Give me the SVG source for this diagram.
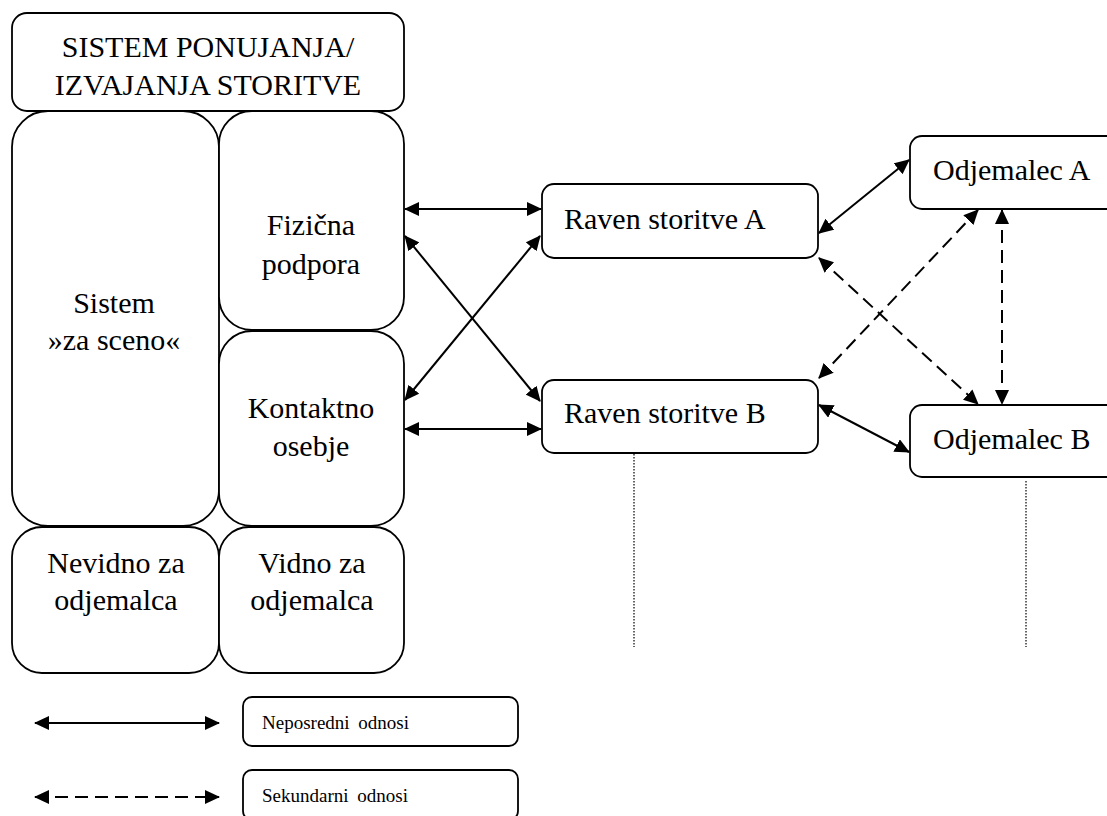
<svg xmlns="http://www.w3.org/2000/svg" width="1107" height="816" viewBox="0 0 1107 816">
  <style>
    .box { fill: #ffffff; stroke: #000000; stroke-width: 1.8; }
    .lbl { font-family: "Liberation Serif", "Times New Roman", serif; font-size: 30px; fill: #000000; }
    .mid { text-anchor: middle; }
    .small { font-family: "Liberation Serif", "Times New Roman", serif; font-size: 19px; word-spacing: 4px; fill: #000000; }
    .link { fill: none; stroke: #000000; stroke-width: 2; marker-start: url(#head); marker-end: url(#head); }
    .dash { stroke-dasharray: 13 7; }
    .dots { fill: none; stroke: #333333; stroke-width: 1.5; stroke-dasharray: 1.5 1.5; }
  </style>
  <defs>
    <marker id="head" markerUnits="userSpaceOnUse" markerWidth="15" markerHeight="14" refX="14" refY="7" orient="auto-start-reverse">
      <path d="M0,0 L15,7 L0,14 z" fill="#000000"/>
    </marker>
  </defs>

  <rect width="1107" height="816" fill="#ffffff"/>

  <!-- service delivery system block -->
  <g id="sistem-ponujanja">
    <rect class="box" x="12" y="13" width="392" height="98" rx="15"/>
    <text class="lbl mid" x="208" y="57">SISTEM PONUJANJA/</text>
    <text class="lbl mid" x="208" y="95">IZVAJANJA STORITVE</text>
  </g>
  <g id="sistem-za-sceno">
    <rect class="box" x="12" y="111" width="207" height="415" rx="36"/>
    <text class="lbl mid" x="114" y="313">Sistem</text>
    <text class="lbl mid" x="114" y="350">»za sceno«</text>
  </g>
  <g id="fizicna-podpora">
    <rect class="box" x="219" y="111" width="185" height="219" rx="33"/>
    <text class="lbl mid" x="311" y="235">Fizična</text>
    <text class="lbl mid" x="311" y="274">podpora</text>
  </g>
  <g id="kontaktno-osebje">
    <rect class="box" x="219" y="331" width="185" height="195" rx="33"/>
    <text class="lbl mid" x="311" y="418">Kontaktno</text>
    <text class="lbl mid" x="311" y="456">osebje</text>
  </g>
  <g id="nevidno">
    <rect class="box" x="12" y="527" width="207" height="146" rx="30"/>
    <text class="lbl mid" x="116" y="573">Nevidno za</text>
    <text class="lbl mid" x="116" y="610">odjemalca</text>
  </g>
  <g id="vidno">
    <rect class="box" x="219" y="527" width="185" height="146" rx="30"/>
    <text class="lbl mid" x="312" y="573">Vidno za</text>
    <text class="lbl mid" x="312" y="610">odjemalca</text>
  </g>

  <!-- service levels -->
  <g id="raven-a">
    <rect class="box" x="542" y="184" width="276" height="74" rx="12"/>
    <text class="lbl" x="564" y="229">Raven storitve A</text>
  </g>
  <g id="raven-b">
    <rect class="box" x="542" y="380" width="276" height="73" rx="12"/>
    <text class="lbl" x="564" y="423">Raven storitve B</text>
  </g>

  <!-- customers -->
  <g id="odjemalec-a">
    <rect class="box" x="910" y="136" width="210" height="73" rx="12"/>
    <text class="lbl" x="933" y="180">Odjemalec A</text>
  </g>
  <g id="odjemalec-b">
    <rect class="box" x="910" y="405" width="210" height="72" rx="12"/>
    <text class="lbl" x="933" y="449">Odjemalec B</text>
  </g>

  <!-- legend boxes -->
  <g id="legenda-neposredni">
    <rect class="box" x="243" y="697" width="275" height="49" rx="9"/>
    <text class="small" x="262" y="729">Neposredni odnosi</text>
  </g>
  <g id="legenda-sekundarni">
    <rect class="box" x="243" y="770" width="275" height="50" rx="9"/>
    <text class="small" x="262" y="802">Sekundarni odnosi</text>
  </g>

  <!-- relations: solid = direct, dashed = secondary, dotted = separators -->
  <g id="connectors">
    <line class="link" x1="405" y1="209" x2="541" y2="209"/>
    <line class="link" x1="405" y1="236" x2="540" y2="401"/>
    <line class="link" x1="405" y1="400" x2="540" y2="236"/>
    <line class="link" x1="405" y1="429" x2="541" y2="429"/>
    <line class="link" x1="819" y1="233" x2="909" y2="160"/>
    <line class="link" x1="819" y1="405" x2="909" y2="452"/>
    <line class="link dash" x1="819" y1="258" x2="978" y2="404"/>
    <line class="link dash" x1="819" y1="378" x2="978" y2="210"/>
    <line class="link dash" x1="1002" y1="210" x2="1002" y2="404"/>
    <line class="dots" x1="634" y1="454" x2="634" y2="647"/>
    <line class="dots" x1="1026" y1="481" x2="1026" y2="647"/>
    <line class="link" x1="35" y1="723" x2="219" y2="723"/>
    <line class="link dash" x1="35" y1="797" x2="219" y2="797"/>
  </g>
</svg>
